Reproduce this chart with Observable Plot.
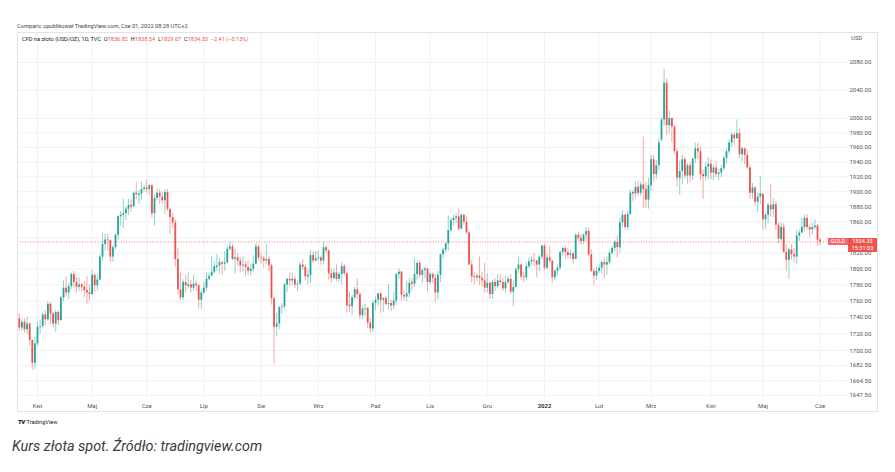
<!DOCTYPE html>
<html><head><meta charset="utf-8">
<script src="https://cdn.jsdelivr.net/npm/d3@7"></script>
<script src="https://cdn.jsdelivr.net/npm/@observablehq/plot@0.6"></script>
<style>
html,body{margin:0;padding:0;background:#fff;}
#wrap{position:relative;width:895px;height:472px;overflow:hidden;font-family:Roboto,"Liberation Sans",sans-serif;}
#wrap > div{position:absolute;white-space:pre;}
#hdr{left:17px;top:22px;font-size:5.7px;line-height:8px;color:#444;}
#frame{left:17px;top:32px;width:861px;height:380px;box-sizing:border-box;border:1px solid #e0e3eb;pointer-events:none;}
#chart{left:0;top:32px;}
#legend{left:22px;top:34.5px;font-size:5.6px;line-height:8px;color:#131722;}
#legend .v{color:#ef5350;}
#usd{left:851px;top:34px;font-size:6px;line-height:8px;color:#50535e;}
#tv{left:18px;top:417.5px;font-size:5.6px;line-height:8px;color:#131722;}
#tv b{font-weight:900;letter-spacing:-0.6px;margin-right:2px;font-size:6px;}
#caption{left:12px;top:436.5px;font-size:14.4px;line-height:19px;font-style:italic;color:#3a3a3a;}
.box{color:#fff;text-align:center;font-size:5.6px;}
</style></head>
<body><div id="wrap">
<div id="hdr">Comparic opublikował TradingView.com, Cze 01, 2022 08:28 UTC+2</div>
<div id="chart"></div>
<div id="frame"></div>
<div id="legend"></div>
<div id="usd">USD</div>
<div id="tv"><b>TV</b>TradingView</div>
<div id="caption">Kurs złota spot. Źródło: tradingview.com</div>
</div>
<script>
// ---- Daily OHLC, TVC:GOLD, 23 Mar 2021 .. 1 Jun 2022 (trading days) ----
const opens = [
  1738,1727,1734,1725,1732,1712,1685,
  1708,1728,1729,1743,1737,1756,1744,1732,1746,1736,1764,1776,1770,1778,1793,1783,1777,1780,1777,1773,1770,
  1768,1792,1779,1786,1815,1831,1837,1836,1815,1827,1843,1867,1869,1871,1877,1882,1880,1898,1895,1897,1903,
  1905,1903,1908,1871,1891,1898,1893,1888,1899,1877,1866,1859,1812,1774,1764,1783,1778,1780,1776,1781,1779,1761,
  1770,1776,1787,1791,1796,1802,1804,1808,1806,1808,1825,1828,1812,1814,1810,1804,1805,1802,1797,1800,1806,1828,
  1814,1813,1810,1812,1804,1763,1728,1732,1752,1753,1780,1787,1785,1787,1780,1781,1805,1802,1790,1792,1817,1810,
  1813,1814,1810,1827,1823,1794,1788,1795,1787,1793,1803,1794,1755,1753,1764,1774,1768,1742,1750,1751,1733,1726,
  1757,1761,1769,1761,1763,1756,1757,1754,1760,1793,1796,1767,1765,1769,1783,1781,1793,1807,1792,1798,1800,
  1783,1793,1788,1770,1792,1818,1824,1832,1849,1862,1865,1867,1851,1869,1860,1846,1805,1790,1789,1791,1788,1785,
  1776,1782,1768,1783,1778,1785,1783,1775,1783,1787,1771,1777,1799,1805,1790,1789,1803,1809,1811,1810,1805,1815,
  1829,1801,1814,1810,1789,1797,1801,1821,1826,1821,1817,1819,1812,1843,1839,1835,1843,1848,1818,1797,1791,
  1797,1801,1808,1805,1808,1820,1826,1834,1827,1859,1869,1853,1870,1899,1897,1906,1898,1909,1903,1889,
  1908,1943,1923,1935,1970,1998,2050,1990,2000,1988,1954,1918,1927,1943,1921,1935,1921,1944,1958,1954,1923,1920,1933,
  1937,1925,1932,1923,1925,1931,1945,1954,1966,1977,1972,1979,1950,1958,1949,1932,1898,1905,1886,1893,
  1897,1863,1869,1882,1876,1883,1856,1838,1853,1821,1811,1824,1818,1815,1842,1846,1853,1865,1853,1850,1853,1855,
  1836.82
];
const highs = [
  1744,1737,1738,1740,1733,1713,1716,
  1734,1737,1745,1748,1759,1758,1746,1748,1748,1766,1785,1790,1782,1795,1797,1789,1789,1782,1784,1790,1780,
  1798,1794,1793,1818,1845,1845,1844,1837,1830,1845,1868,1874,1890,1880,1890,1889,1900,1912,1902,1913,1909,
  1916,1910,1910,1895,1904,1903,1900,1903,1903,1877,1871,1863,1826,1795,1787,1792,1795,1786,1792,1785,1780,1773,
  1783,1795,1795,1815,1809,1818,1813,1810,1822,1829,1834,1831,1825,1820,1814,1815,1809,1810,1806,1817,1832,1831,
  1820,1816,1832,1816,1806,1765,1745,1753,1757,1782,1788,1795,1795,1790,1785,1808,1812,1805,1800,1823,1822,1822,
  1823,1816,1834,1829,1824,1800,1800,1805,1796,1808,1806,1795,1771,1767,1777,1787,1771,1754,1756,1752,1738,1760,
  1765,1770,1770,1764,1765,1781,1761,1770,1795,1800,1797,1772,1785,1788,1788,1813,1809,1810,1800,1802,1800,
  1796,1795,1793,1797,1819,1826,1833,1868,1865,1869,1871,1877,1870,1870,1867,1848,1811,1795,1794,1815,1796,1807,
  1794,1784,1786,1788,1793,1793,1789,1791,1791,1793,1785,1801,1815,1806,1796,1808,1814,1815,1820,1811,1817,1831,
  1831,1818,1829,1810,1799,1805,1823,1828,1829,1827,1824,1822,1845,1847,1844,1845,1853,1852,1824,1800,1803,
  1806,1810,1814,1815,1823,1829,1836,1842,1865,1875,1871,1874,1902,1902,1913,1914,1913,1974,1912,1918,
  1950,1949,1942,1971,2001,2070,2056,2010,2001,1991,1958,1941,1949,1946,1938,1939,1945,1966,1966,1960,1929,1939,1946,
  1943,1936,1941,1930,1936,1948,1958,1970,1981,1980,1998,1985,1960,1959,1957,1936,1911,1907,1898,1920,
  1897,1873,1885,1910,1890,1887,1859,1859,1858,1830,1826,1831,1826,1849,1850,1865,1869,1870,1856,1858,1863,1857,
  1838.54
];
const lows = [
  1723,1723,1721,1720,1705,1677,1678,
  1705,1720,1726,1730,1735,1731,1727,1722,1730,1736,1759,1765,1762,1774,1776,1770,1772,1771,1764,1756,1760,
  1767,1771,1772,1785,1810,1823,1822,1808,1809,1824,1837,1855,1852,1862,1869,1873,1880,1889,1883,1889,1900,
  1898,1895,1865,1855,1888,1883,1884,1870,1874,1844,1852,1802,1768,1761,1761,1770,1775,1770,1772,1772,1750,1750,
  1768,1772,1785,1790,1793,1797,1794,1792,1797,1806,1823,1810,1794,1803,1795,1796,1790,1792,1791,1796,1805,1810,
  1806,1801,1806,1797,1755,1684,1717,1725,1744,1750,1770,1778,1779,1775,1772,1779,1798,1785,1780,1782,1807,1809,
  1810,1805,1805,1820,1786,1782,1787,1784,1783,1780,1791,1745,1746,1742,1761,1762,1737,1738,1741,1726,1721,1722,
  1748,1754,1745,1746,1754,1749,1747,1749,1755,1787,1760,1760,1759,1764,1772,1777,1785,1788,1782,1788,1770,
  1780,1782,1758,1761,1783,1812,1820,1823,1847,1855,1858,1848,1850,1856,1844,1804,1782,1780,1784,1779,1778,1770,
  1770,1762,1762,1772,1775,1779,1772,1770,1781,1768,1753,1776,1794,1786,1783,1785,1800,1804,1803,1789,1797,1812,
  1798,1799,1807,1782,1785,1791,1798,1816,1812,1812,1812,1806,1812,1835,1830,1831,1835,1815,1795,1780,1785,
  1794,1794,1788,1792,1805,1817,1822,1814,1820,1853,1850,1849,1869,1887,1890,1894,1894,1878,1878,1877,
  1900,1913,1916,1928,1968,1989,1976,1979,1966,1950,1906,1895,1909,1917,1910,1912,1915,1938,1943,1915,1890,1914,1916,
  1916,1915,1919,1915,1919,1928,1938,1950,1960,1962,1971,1945,1940,1937,1930,1890,1890,1881,1872,1883,
  1850,1851,1859,1867,1866,1850,1832,1835,1820,1797,1787,1811,1808,1806,1835,1845,1848,1850,1840,1843,1850,1829,
  1829.67
];
const closes = [
  1727,1734,1725,1732,1712,1685,1708,
  1728,1729,1743,1737,1756,1744,1732,1746,1736,1764,1776,1770,1778,1793,1783,1777,1780,1777,1773,1770,1768,
  1792,1779,1786,1815,1831,1837,1836,1815,1827,1843,1867,1869,1871,1877,1882,1880,1898,1896,1897,1903,1905,
  1903,1908,1871,1891,1898,1893,1888,1899,1877,1866,1859,1812,1774,1764,1783,1779,1780,1776,1781,1779,1761,1770,
  1776,1787,1791,1796,1803,1804,1808,1806,1808,1825,1828,1812,1814,1810,1804,1805,1802,1797,1800,1806,1828,1814,
  1813,1810,1812,1804,1763,1728,1732,1752,1753,1780,1787,1785,1787,1780,1781,1805,1802,1790,1792,1817,1810,1813,
  1814,1810,1827,1823,1794,1788,1795,1787,1793,1803,1794,1754,1753,1764,1774,1768,1742,1750,1751,1733,1726,1757,
  1761,1769,1761,1763,1756,1757,1754,1760,1793,1796,1767,1765,1769,1782,1781,1793,1807,1792,1798,1800,1783,
  1793,1788,1770,1792,1818,1824,1832,1849,1862,1865,1867,1851,1869,1860,1846,1805,1790,1789,1791,1788,1785,1776,
  1782,1768,1783,1778,1785,1783,1775,1783,1787,1771,1777,1799,1805,1790,1789,1803,1809,1811,1810,1805,1815,1829,
  1801,1814,1810,1789,1797,1801,1821,1826,1821,1817,1819,1812,1843,1839,1835,1843,1848,1818,1797,1791,1797,
  1801,1808,1805,1808,1820,1826,1834,1827,1859,1869,1853,1870,1898,1897,1906,1898,1909,1903,1889,1908,
  1943,1923,1935,1966,1998,2050,1990,2000,1988,1954,1918,1927,1943,1921,1935,1921,1944,1958,1954,1923,1920,1933,1937,
  1925,1932,1923,1925,1931,1945,1954,1966,1977,1972,1979,1950,1958,1949,1932,1898,1905,1886,1893,1897,
  1863,1869,1882,1876,1883,1856,1838,1853,1821,1811,1824,1818,1815,1842,1846,1853,1865,1853,1850,1853,1855,1836.74,
  1834.33
];

// month labels on the time axis and the bar index of each month's first session
const monthLabels = ["Kwi","Maj","Cze","Lip","Sie","Wrz","Paź","Lis","Gru","2022","Lut","Mrz","Kwi","Maj","Cze"];
const monthIndex  = [7, 28, 49, 71, 93, 115, 137, 158, 180, 202, 223, 243, 266, 286, 308];

// price scale ticks and their labels
const priceTicks  = [2080,2040,2000,1980,1960,1940,1920,1900,1880,1860,1840,1820,1800,1780,1760,1740,1720,1700,1682.5,1664.5,1647.5];
const priceLabels = ["2080.00","2040.00","2000.00","1980.00","1960.00","1940.00","1920.00","1900.00","1880.00","1860.00","1840.00","1820.00","1800.00","1780.00","1760.00","1740.00","1720.00","1700.00","1682.50","1664.50","1647.50"];

const symbolName = "CFD na złoto (USD/OZ), 1D, TVC";
const countdown = "15:31:03";

// ------------------------------------------------------------
const up = "#26a69a", down = "#ef5350";
const bars = closes.map((c, i) => ({i, o: opens[i], h: highs[i], l: lows[i], c}));
const isUp = d => d.c >= d.o;
const last = bars[bars.length - 1], prev = bars[bars.length - 2];
const labelMap = new Map(priceTicks.map((t, i) => [t, priceLabels[i]]));
const monthMap = new Map(monthIndex.map((t, i) => [t, monthLabels[i]]));
const yearTicks = monthIndex.filter((t, i) => /^\d{4}$/.test(monthLabels[i]));
const plainMonthTicks = monthIndex.filter((t, i) => !/^\d{4}$/.test(monthLabels[i]));

const H = 380, MB = 14;
const yDomain = [1643.9, 2124.2];
const yProbe = Plot.scale({y: {type: "log", domain: yDomain, range: [H - MB, 0]}});
const lastY = yProbe.apply(last.c);
const axisTicks = priceTicks.filter(t => Math.abs(yProbe.apply(t) - lastY) > 10);

const chart = Plot.plot({
  width: 895, height: H,
  marginLeft: 17, marginRight: 57, marginTop: 0, marginBottom: MB,
  style: {fontFamily: "Roboto, 'Liberation Sans', sans-serif", fontSize: "6px", background: "transparent", overflow: "visible"},
  x: {type: "linear", domain: [-0.69, 315.08]},
  y: {type: "log", domain: yDomain},
  marks: [
    Plot.gridY(priceTicks, {stroke: "#f0f2f6", strokeOpacity: 1}),
    Plot.gridX(monthIndex, {stroke: "#f0f2f6", strokeOpacity: 1}),
    Plot.ruleX(bars, {filter: d => isUp(d), x: "i", y1: "l", y2: "h", stroke: up, strokeOpacity: 0.5, strokeWidth: 1}),
    Plot.ruleX(bars, {filter: d => !isUp(d), x: "i", y1: "l", y2: "h", stroke: down, strokeOpacity: 0.5, strokeWidth: 1}),
    Plot.ruleX(bars, {filter: d => isUp(d), x: "i", y1: "o", y2: "c", stroke: up, strokeWidth: 1.8}),
    Plot.ruleX(bars, {filter: d => !isUp(d), x: "i", y1: "o", y2: "c", stroke: down, strokeWidth: 1.8}),
    Plot.ruleY([last.c], {stroke: down, strokeOpacity: 0.75, strokeDasharray: "1,1.6"}),
    Plot.axisY(axisTicks, {anchor: "right", tickSize: 8, tickPadding: 3, stroke: "#eceef2", fill: "#50535e", tickFormat: d => labelMap.get(d), label: null}),
    Plot.axisX(plainMonthTicks, {anchor: "bottom", tickSize: 0, tickPadding: 5, fill: "#50535e", tickFormat: d => monthMap.get(d), label: null}),
    Plot.axisX(yearTicks, {anchor: "bottom", tickSize: 0, tickPadding: 5, fill: "#131722", fontWeight: "600", tickFormat: d => monthMap.get(d), label: null})
  ]
});
document.getElementById("chart").appendChild(chart);

// legend line
const fmt = v => v.toFixed(2);
const ch = last.c - prev.c, pct = ch / prev.c * 100;
const minus = s => s.replace("-", "\u2212");
document.getElementById("legend").innerHTML =
  `${symbolName}  O<span class="v">${fmt(last.o)}</span>  H<span class="v">${fmt(last.h)}</span>  L<span class="v">${fmt(last.l)}</span>  C<span class="v">${fmt(last.c)}</span>  <span class="v">${minus(fmt(ch))} (${minus(pct.toFixed(2))}%)</span>`;

// last price labels on the price scale
const py = chart.scale("y").apply(last.c) + 32;
const wrap = document.getElementById("wrap");
const gold = document.createElement("div");
gold.className = "box";
Object.assign(gold.style, {left: "828px", top: (py - 3.4) + "px", width: "20px", height: "7.4px", lineHeight: "7.4px", background: "#f26a6d"});
gold.textContent = "GOLD";
wrap.appendChild(gold);
const pbox = document.createElement("div");
pbox.className = "box";
Object.assign(pbox.style, {left: "848px", top: (py - 3.9) + "px", width: "29px", height: "14.6px", lineHeight: "7.2px", background: down});
pbox.innerHTML = `${fmt(last.c)}<br>${countdown}`;
wrap.appendChild(pbox);
</script>
</body></html>
